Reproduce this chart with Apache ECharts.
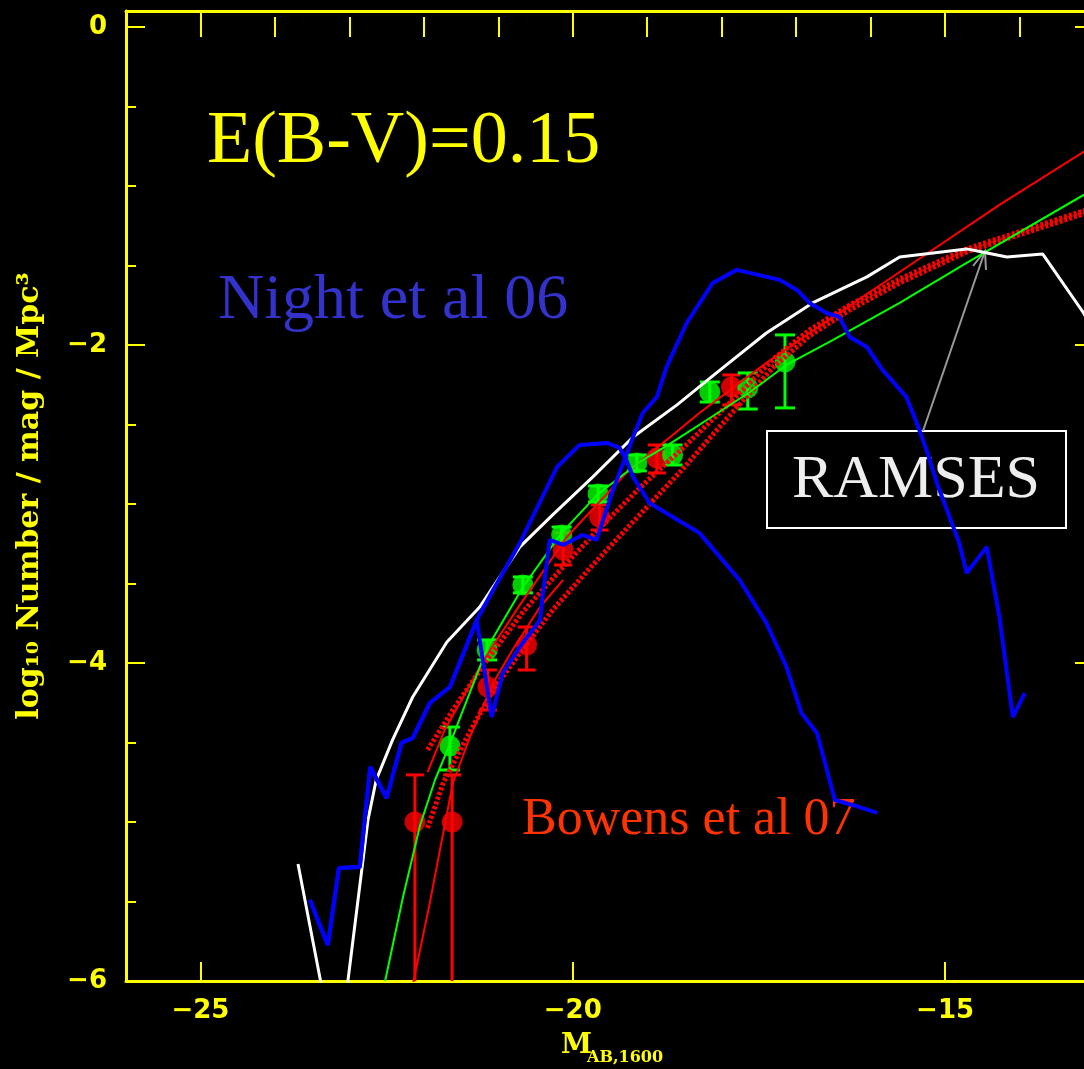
<!DOCTYPE html>
<html><head><meta charset="utf-8">
<script src="https://cdn.jsdelivr.net/npm/echarts@6/dist/echarts.min.js"></script>
<style>html,body{margin:0;padding:0;background:#000}#c{width:1084px;height:1069px}</style>
</head><body><div id="c"></div>
<script>
// ---- tick labels ----
const xTicks = [-25, -20, -15];
const yTicks = [-6, -4, -2, 0];

// ---- RAMSES simulation (white) ----
const ramsesCurve = [[-23.69,-5.264],[-23.17,-6.528],[-23.02,-6.0],[-22.75,-4.987],[-22.64,-4.736],[-22.42,-4.484],[-22.15,-4.214],[-21.69,-3.868],[-21.25,-3.648],[-20.71,-3.270],[-20.27,-3.069],[-19.73,-2.830],[-19.19,-2.579],[-18.60,-2.377],[-18.07,-2.176],[-17.40,-1.925],[-16.78,-1.736],[-16.05,-1.572],[-15.61,-1.447],[-14.71,-1.396],[-14.50,-1.415],[-14.17,-1.447],[-13.69,-1.428],[-13.14,-1.799],[-12.93,-1.97]];

// ---- Night et al 06 (blue) ----
const nightBright = [[-23.53,-5.491],[-23.29,-5.774],[-23.14,-5.289],[-22.86,-5.283],[-22.72,-4.654],[-22.50,-4.849],[-22.30,-4.503],[-22.15,-4.472],[-21.92,-4.252],[-21.65,-4.151],[-21.45,-3.918],[-21.29,-3.730]];
const nightA = [[-21.07,-3.541],[-20.71,-3.245],[-20.21,-2.767],[-19.91,-2.629],[-19.54,-2.616],[-19.37,-2.648],[-19.28,-2.723],[-19.19,-2.830],[-18.97,-2.994],[-18.30,-3.182],[-17.76,-3.478],[-17.40,-3.748],[-17.13,-4.025],[-16.93,-4.314],[-16.72,-4.440],[-16.48,-4.862],[-16.15,-4.906],[-15.91,-4.943]];
const nightB = [[-21.09,-4.340],[-20.94,-4.063],[-20.71,-3.899],[-20.44,-3.730],[-20.40,-3.560],[-20.31,-3.226],[-20.13,-3.258],[-19.87,-3.195],[-19.68,-3.226],[-19.46,-2.912],[-19.19,-2.579],[-19.06,-2.428],[-18.87,-2.327],[-18.74,-2.138],[-18.47,-1.862],[-18.12,-1.610],[-17.80,-1.528],[-17.22,-1.591],[-16.99,-1.654],[-16.82,-1.736],[-16.59,-1.799],[-16.42,-1.824],[-16.28,-1.950],[-16.05,-2.013],[-15.84,-2.157],[-15.52,-2.327],[-15.38,-2.491],[-15.25,-2.660],[-15.11,-2.868],[-14.94,-3.082],[-14.81,-3.245],[-14.71,-3.434],[-14.44,-3.270],[-14.27,-3.711],[-14.09,-4.340],[-13.93,-4.189]];

// ---- green fit line ----
const greenFit = [[-22.52,-6.0],[-22.28,-5.472],[-22.05,-5.019],[-21.85,-4.736],[-21.65,-4.509],[-21.15,-3.906],[-20.67,-3.522],[-20.15,-3.182],[-19.66,-2.937],[-19.10,-2.736],[-18.74,-2.635],[-18.20,-2.472],[-17.62,-2.296],[-17.13,-2.126],[-16.51,-1.969],[-15.61,-1.736],[-14.71,-1.484],[-13.14,-1.057],[-13.0,-1.025]];

// ---- red fits ----
const redThin = [[-21.95,-4.686],[-21.72,-4.421],[-21.42,-4.170],[-21.11,-3.918],[-20.71,-3.635],[-20.08,-3.208],[-19.28,-2.805],[-18.30,-2.428],[-17.40,-2.113],[-16.82,-1.925],[-16.01,-1.667],[-15.25,-1.428],[-14.27,-1.119],[-13.14,-0.786],[-13.0,-0.748]];
const redBright = [[-22.16,-6.05],[-21.92,-5.509],[-21.74,-5.069],[-21.61,-4.755],[-21.38,-4.465],[-21.07,-4.126],[-20.81,-3.918],[-20.44,-3.648],[-20.13,-3.478]];
const redBandUpper = [[-21.95,-4.547],[-21.61,-4.296],[-21.15,-3.981],[-20.67,-3.679],[-20.13,-3.396],[-19.64,-3.151],[-19.10,-2.899],[-18.52,-2.648],[-17.85,-2.346],[-17.29,-2.082],[-16.82,-1.906],[-16.28,-1.748],[-15.61,-1.585],[-14.71,-1.396],[-13.14,-1.157],[-13.0,-1.138]];
const redBandLower = [[-21.95,-5.038],[-21.74,-4.755],[-21.42,-4.465],[-21.07,-4.170],[-20.71,-3.937],[-20.27,-3.667],[-19.77,-3.403],[-19.23,-3.132],[-18.56,-2.799],[-17.85,-2.421],[-17.29,-2.132],[-16.82,-1.943],[-16.28,-1.780],[-15.61,-1.610],[-14.71,-1.415],[-13.14,-1.176],[-13.0,-1.157]];

// ---- Bouwens et al 07 data (red) ----
const redX  = [-22.12,-21.62,-21.14,-20.62,-20.13,-19.64,-18.87,-17.87];
const redY  = [-5.0,-5.0,-4.151,-3.887,-3.289,-3.082,-2.711,-2.264];
const redHi = [-4.704,-4.704,-4.044,-3.774,-3.182,-3.006,-2.629,-2.189];
const redLo = [-6.0,-6.0,-4.296,-4.044,-3.384,-3.164,-2.805,-2.377];

// ---- green data ----
const greenX  = [-21.65,-21.15,-20.67,-20.15,-19.66,-19.14,-18.66,-18.16,-17.65,-17.15];
const greenY  = [-4.522,-3.918,-3.509,-3.195,-2.937,-2.742,-2.692,-2.296,-2.270,-2.107];
const greenHi = [-4.403,-3.855,-3.459,-3.145,-2.887,-2.692,-2.629,-2.233,-2.176,-1.937];
const greenLo = [-4.673,-3.981,-3.559,-3.245,-2.987,-2.792,-2.755,-2.359,-2.403,-2.396];

const YEL = '#ffff00';
const minus = v => String(v).replace('-', '\u2212');

function errBar(color, lw, cap) {
  return function (params, api) {
    const x = api.value(0), lo = api.value(2), hi = api.value(3);
    const pH = api.coord([x, hi]), pL = api.coord([x, lo]);
    const st = { stroke: color, lineWidth: lw };
    const ch = [
      { type: 'line', shape: { x1: pH[0], y1: pH[1], x2: pL[0], y2: pL[1] }, style: st },
      { type: 'line', shape: { x1: pH[0] - cap, y1: pH[1], x2: pH[0] + cap, y2: pH[1] }, style: st }
    ];
    if (lo > -6) ch.push({ type: 'line', shape: { x1: pL[0] - cap, y1: pL[1], x2: pL[0] + cap, y2: pL[1] }, style: st });
    return { type: 'group', children: ch };
  };
}

function majorX(pos) {
  return { type: 'value', min: -26, max: -13, position: pos,
    axisLine: { show: true, onZero: false, lineStyle: { color: YEL, width: 3 } },
    axisTick: { show: true, inside: true, length: 19, customValues: xTicks, lineStyle: { color: YEL, width: 2 } },
    axisLabel: { show: pos === 'bottom', customValues: xTicks, formatter: minus, color: YEL, fontFamily: 'DejaVu Sans', fontWeight: 'bold', fontSize: 26, margin: 17 },
    splitLine: { show: false } };
}
function minorX(pos) {
  return { type: 'value', min: -26, max: -13, interval: 1, position: pos,
    axisLine: { show: false }, axisLabel: { show: false }, splitLine: { show: false },
    axisTick: { show: true, inside: true, length: 10, lineStyle: { color: YEL, width: 2 } } };
}
function majorY(pos) {
  return { type: 'value', min: -6, max: 0.1, position: pos,
    axisLine: { show: true, onZero: false, lineStyle: { color: YEL, width: 3 } },
    axisTick: { show: true, inside: true, length: 19, customValues: yTicks, lineStyle: { color: YEL, width: 2 } },
    axisLabel: { show: pos === 'left', customValues: yTicks, formatter: minus, color: YEL, fontFamily: 'DejaVu Sans', fontWeight: 'bold', fontSize: 26, margin: 19 },
    splitLine: { show: false } };
}
function minorY(pos) {
  return { type: 'value', min: -6, max: 0.1, interval: 0.5, position: pos,
    axisLine: { show: false }, axisLabel: { show: false }, splitLine: { show: false },
    axisTick: { show: true, inside: true, length: 10, lineStyle: { color: YEL, width: 2 } } };
}

function lineS(name, data, color, width, type) {
  return { type: 'line', name, data, symbol: 'none', smooth: false, clip: true,
    lineStyle: { color, width, type: type || 'solid' }, itemStyle: { color } };
}

const chart = echarts.init(document.getElementById('c'), null, { renderer: 'canvas' });
chart.setOption({
  backgroundColor: '#000',
  animation: false,
  grid: { left: 126, top: 11, width: 968, height: 970, containLabel: false, outerBoundsMode: 'none' },
  xAxis: [majorX('bottom'), minorX('bottom'), majorX('top'), minorX('top')],
  yAxis: [majorY('left'), minorY('left'), majorY('right'), minorY('right')],
  series: [
    lineS('red fit', redThin, '#ff0000', 2),
    lineS('red fit bright', redBright, '#ff0000', 2),
    lineS('red band upper', redBandUpper, '#ff0000', 5, [3, 2]),
    lineS('red band lower', redBandLower, '#ff0000', 5, [3, 2]),
    lineS('green fit', greenFit, '#00ff00', 2),
    { type: 'custom', name: 'Bouwens err', data: redX.map((x, i) => [x, redY[i], redLo[i], redHi[i]]),
      encode: { x: 0, y: 1 }, renderItem: errBar('#ff0000', 3, 9) },
    { type: 'scatter', name: 'Bouwens et al 07', data: redX.map((x, i) => [x, redY[i]]),
      symbol: 'circle', symbolSize: 21, itemStyle: { color: '#ff0000' } },
    { type: 'custom', name: 'green err', data: greenX.map((x, i) => [x, greenY[i], greenLo[i], greenHi[i]]),
      encode: { x: 0, y: 1 }, renderItem: errBar('#00ff00', 3, 10) },
    { type: 'scatter', name: 'green data', data: greenX.map((x, i) => [x, greenY[i]]),
      symbol: 'circle', symbolSize: 21, itemStyle: { color: '#00ff00' } },
    lineS('RAMSES', ramsesCurve, '#ffffff', 3),
    lineS('Night et al 06 a', nightBright.concat(nightA), '#0000ff', 4),
    lineS('Night et al 06 b', nightBright.concat(nightB), '#0000ff', 4)
  ],
  graphic: [
    { type: 'text', x: 207, y: 143, style: { text: 'E(B-V)=0.15', fill: YEL, font: '74px "Liberation Serif"', align: 'left', verticalAlign: 'middle' } },
    { type: 'text', x: 218, y: 301, style: { text: 'Night et al 06', fill: '#3333cc', font: '64px "Liberation Serif"', align: 'left', verticalAlign: 'middle' } },
    { type: 'text', x: 522, y: 820, style: { text: 'Bowens et al 07', fill: '#ff3300', font: '52px "Liberation Serif"', align: 'left', verticalAlign: 'middle' } },
    { type: 'rect', shape: { x: 767, y: 431, width: 299, height: 97 }, style: { fill: 'none', stroke: '#ffffff', lineWidth: 2 } },
    { type: 'text', x: 916, y: 481, style: { text: 'RAMSES', fill: '#eeeeee', font: '62px "Liberation Serif"', align: 'center', verticalAlign: 'middle' } },
    { type: 'line', shape: { x1: 923, y1: 431, x2: 985, y2: 251 }, style: { stroke: '#999999', lineWidth: 2 } },
    { type: 'polyline', shape: { points: [[973, 266], [985, 251], [986, 270]] }, style: { stroke: '#999999', lineWidth: 2, fill: 'none' } },
    { type: 'text', x: 30, y: 496, rotation: Math.PI / 2, style: { text: 'log\u2081\u2080 Number / mag / Mpc\u00b3', fill: YEL, font: 'bold 30px "DejaVu Serif"', align: 'center', verticalAlign: 'middle' } },
    { type: 'text', x: 561, y: 1046, style: { text: 'M', fill: YEL, font: 'bold 28px "DejaVu Serif"', align: 'left', verticalAlign: 'middle' } },
    { type: 'text', x: 587, y: 1058, style: { text: 'AB,1600', fill: YEL, font: 'bold 16px "DejaVu Serif"', align: 'left', verticalAlign: 'middle' } }
  ]
});
</script>
</body></html>
